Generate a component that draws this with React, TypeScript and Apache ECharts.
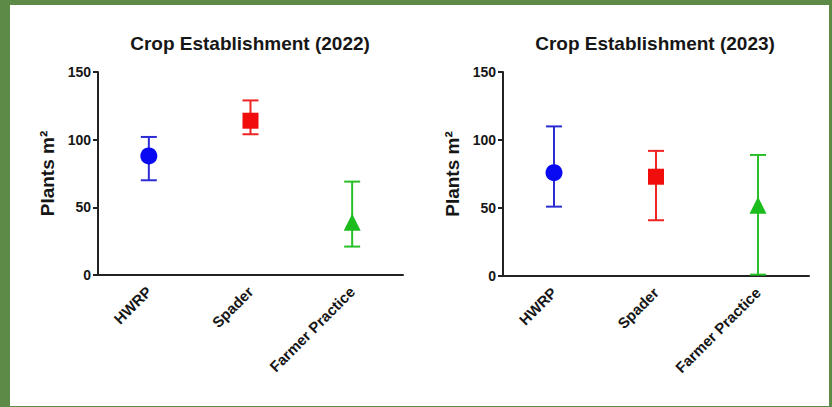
import React, { useEffect, useRef } from "react";
import * as echarts from "echarts";

const categories = ["HWRP", "Spader", "Farmer Practice"];
const yTicks = [0, 50, 100, 150];

const mean2022 = [88, 114, 39];
const upper2022 = [102, 129, 69];
const lower2022 = [70, 104, 21];

const mean2023 = [76, 73, 52];
const upper2023 = [110, 92, 89];
const lower2023 = [51, 41, 1];

const markerColors = ["#0a0af2", "#f20d0d", "#1cbc1c"];
const barColors = ["#2c2cd4", "#ee2424", "#28bf28"];
const symbols = ["circle", "rect", "triangle"];
const symbolSizes = [17, 16, [17, 17]];

const FONT = '"Liberation Sans", Arial, sans-serif';
const TEXT = "#161616";
const AXIS = "#222222";

function errorSeries(idx: number, upper: number[], lower: number[]) {
  return {
    type: "custom",
    xAxisIndex: idx,
    yAxisIndex: idx,
    z: 2,
    clip: false,
    data: categories.map((_, i) => [i, upper[i], lower[i]]),
    renderItem: (params: any, api: any) => {
      const i = api.value(0);
      const hi = api.coord([i, api.value(1)]);
      const lo = api.coord([i, api.value(2)]);
      const half = 8;
      const style = { stroke: barColors[i], lineWidth: 2 };
      return {
        type: "group",
        children: [
          { type: "line", shape: { x1: hi[0], y1: hi[1], x2: lo[0], y2: lo[1] }, style },
          { type: "line", shape: { x1: hi[0] - half, y1: hi[1], x2: hi[0] + half, y2: hi[1] }, style },
          { type: "line", shape: { x1: lo[0] - half, y1: lo[1], x2: lo[0] + half, y2: lo[1] }, style },
        ],
      };
    },
  };
}

function markerSeries(idx: number, mean: number[]) {
  return {
    type: "scatter",
    xAxisIndex: idx,
    yAxisIndex: idx,
    z: 5,
    data: categories.map((c, i) => ({
      value: [i, mean[i]],
      symbol: symbols[i],
      symbolSize: symbolSizes[i],
      itemStyle: { color: markerColors[i], opacity: 1 },
    })),
  };
}

function xAxis(idx: number) {
  return {
    type: "category",
    gridIndex: idx,
    data: categories,
    boundaryGap: true,
    axisLine: { lineStyle: { color: AXIS, width: 2 } },
    axisTick: { alignWithLabel: true, length: 5, lineStyle: { color: AXIS, width: 2 } },
    axisLabel: {
      rotate: 45,
      margin: 14,
      interval: 0,
      fontFamily: FONT,
      fontWeight: "bold",
      fontSize: 15,
      color: TEXT,
    },
  };
}

function yAxis(idx: number) {
  return {
    type: "value",
    gridIndex: idx,
    min: yTicks[0],
    max: yTicks[yTicks.length - 1],
    interval: yTicks[1] - yTicks[0],
    name: "Plants m²",
    nameLocation: "middle",
    nameRotate: 90,
    nameGap: 41,
    nameTextStyle: { fontFamily: FONT, fontWeight: "bold", fontSize: 19, color: TEXT },
    splitLine: { show: false },
    axisLine: { show: true, lineStyle: { color: AXIS, width: 2 } },
    axisTick: { show: true, length: 5, lineStyle: { color: AXIS, width: 2 } },
    axisLabel: {
      margin: 7,
      fontFamily: FONT,
      fontWeight: "bold",
      fontSize: 14,
      color: TEXT,
    },
  };
}

export default function App() {
  const ref = useRef<HTMLDivElement>(null);
  useEffect(() => {
    if (!ref.current) return;
    const chart = echarts.init(ref.current, null, { renderer: "svg" });
    chart.setOption({
      animation: false,
      grid: [
        { left: 98, top: 72, width: 305, height: 203 },
        { left: 503, top: 72, width: 306, height: 204 },
      ],
      xAxis: [xAxis(0), xAxis(1)],
      yAxis: [yAxis(0), yAxis(1)],
      graphic: [
        {
          type: "text",
          x: 250,
          y: 43,
          style: {
            text: "Crop Establishment (2022)",
            font: `bold 19px ${FONT}`,
            fill: TEXT,
            textAlign: "center",
            textVerticalAlign: "middle",
            align: "center",
            verticalAlign: "middle",
          },
        },
        {
          type: "text",
          x: 655,
          y: 43,
          style: {
            text: "Crop Establishment (2023)",
            font: `bold 19px ${FONT}`,
            fill: TEXT,
            textAlign: "center",
            textVerticalAlign: "middle",
            align: "center",
            verticalAlign: "middle",
          },
        },
      ],
      series: [
        errorSeries(0, upper2022, lower2022),
        markerSeries(0, mean2022),
        errorSeries(1, upper2023, lower2023),
        markerSeries(1, mean2023),
      ],
    });
    return () => chart.dispose();
  }, []);
  return (
    <div style={{ position: "fixed", left: 0, top: 0, width: 832, height: 407, background: "#5d8a46" }}>
      <div style={{ position: "absolute", left: 10, top: 5, width: 819, height: 401, background: "#ffffff" }} />
      <div ref={ref} style={{ position: "absolute", left: 0, top: 0, width: 832, height: 407 }} />
    </div>
  );
}
